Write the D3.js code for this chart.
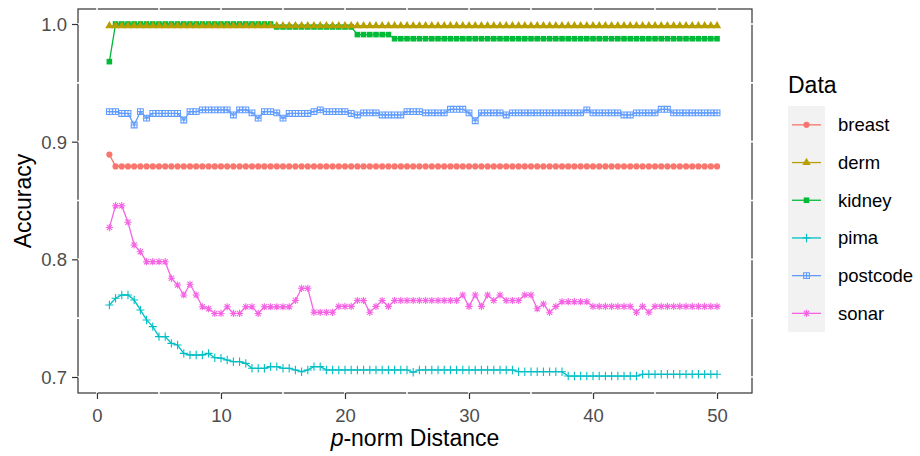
<!DOCTYPE html>
<html>
<head>
<meta charset="utf-8">
<script src="https://cdn.jsdelivr.net/npm/d3@7.9.0/dist/d3.min.js"></script>
<style>
  body { margin: 0; background: #fff; }
  svg text { font-family: "Liberation Sans", Arial, sans-serif; }
</style>
</head>
<body>
<svg id="chart" width="920" height="456"></svg>
<script>
// p values 1, 1.5, ..., 50
const pValues = d3.range(1, 50.01, 0.5);

const seriesNames = ['breast', 'derm', 'kidney', 'pima', 'postcode', 'sonar'];
const seriesColors = ['#F8766D', '#B79F00', '#00BA38', '#00BFC4', '#619CFF', '#F564E3'];

const breast = [
  0.889, 0.879, 0.879, 0.879, 0.879, 0.879, 0.879, 0.879, 0.879, 0.879,
  0.879, 0.879, 0.879, 0.879, 0.879, 0.879, 0.879, 0.879, 0.879, 0.879,
  0.879, 0.879, 0.879, 0.879, 0.879, 0.879, 0.879, 0.879, 0.879, 0.879,
  0.879, 0.879, 0.879, 0.879, 0.879, 0.879, 0.879, 0.879, 0.879, 0.879,
  0.879, 0.879, 0.879, 0.879, 0.879, 0.879, 0.879, 0.879, 0.879, 0.879,
  0.879, 0.879, 0.879, 0.879, 0.879, 0.879, 0.879, 0.879, 0.879, 0.879,
  0.879, 0.879, 0.879, 0.879, 0.879, 0.879, 0.879, 0.879, 0.879, 0.879,
  0.879, 0.879, 0.879, 0.879, 0.879, 0.879, 0.879, 0.879, 0.879, 0.879,
  0.879, 0.879, 0.879, 0.879, 0.879, 0.879, 0.879, 0.879, 0.879, 0.879,
  0.879, 0.879, 0.879, 0.879, 0.879, 0.879, 0.879, 0.879, 0.879
];

const derm = [
  0.9985, 0.9985, 0.9985, 0.9985, 0.9985, 0.9985, 0.9985, 0.9985, 0.9985, 0.9985,
  0.9985, 0.9985, 0.9985, 0.9985, 0.9985, 0.9985, 0.9985, 0.9985, 0.9985, 0.9985,
  0.9985, 0.9985, 0.9985, 0.9985, 0.9985, 0.9985, 0.9985, 0.9985, 0.9985, 0.9985,
  0.9985, 0.9985, 0.9985, 0.9985, 0.9985, 0.9985, 0.9985, 0.9985, 0.9985, 0.9985,
  0.9985, 0.9985, 0.9985, 0.9985, 0.9985, 0.9985, 0.9985, 0.9985, 0.9985, 0.9985,
  0.9985, 0.9985, 0.9985, 0.9985, 0.9985, 0.9985, 0.9985, 0.9985, 0.9985, 0.9985,
  0.9985, 0.9985, 0.9985, 0.9985, 0.9985, 0.9985, 0.9985, 0.9985, 0.9985, 0.9985,
  0.9985, 0.9985, 0.9985, 0.9985, 0.9985, 0.9985, 0.9985, 0.9985, 0.9985, 0.9985,
  0.9985, 0.9985, 0.9985, 0.9985, 0.9985, 0.9985, 0.9985, 0.9985, 0.9985, 0.9985,
  0.9985, 0.9985, 0.9985, 0.9985, 0.9985, 0.9985, 0.9985, 0.9985, 0.9985
];

const kidney = [
  0.968, 1, 1, 1, 1, 1, 1, 1, 1, 1,
  1, 1, 1, 1, 1, 1, 1, 1, 1, 1,
  1, 1, 1, 1, 1, 1, 1, 0.9975, 0.9975, 0.9975,
  0.9975, 0.9975, 0.9975, 0.9975, 0.9975, 0.9975, 0.9975, 0.9975, 0.9975, 0.9975,
  0.991, 0.991, 0.991, 0.991, 0.991, 0.991, 0.9875, 0.9875, 0.9875, 0.9875,
  0.9875, 0.9875, 0.9875, 0.9875, 0.9875, 0.9875, 0.9875, 0.9875, 0.9875, 0.9875,
  0.9875, 0.9875, 0.9875, 0.9875, 0.9875, 0.9875, 0.9875, 0.9875, 0.9875, 0.9875,
  0.9875, 0.9875, 0.9875, 0.9875, 0.9875, 0.9875, 0.9875, 0.9875, 0.9875, 0.9875,
  0.9875, 0.9875, 0.9875, 0.9875, 0.9875, 0.9875, 0.9875, 0.9875, 0.9875, 0.9875,
  0.9875, 0.9875, 0.9875, 0.9875, 0.9875, 0.9875, 0.9875, 0.9875, 0.9875
];

const pima = [
  0.7612, 0.7669, 0.7697, 0.7697, 0.7654, 0.757, 0.7485, 0.7428, 0.7343, 0.7343,
  0.7286, 0.7272, 0.7201, 0.7187, 0.7187, 0.7187, 0.7201, 0.7164, 0.716, 0.7144,
  0.713, 0.713, 0.7116, 0.7074, 0.7074, 0.7074, 0.7088, 0.7088, 0.7074, 0.7074,
  0.706, 0.7045, 0.706, 0.7088, 0.7088, 0.706, 0.706, 0.706, 0.706, 0.706,
  0.706, 0.706, 0.706, 0.706, 0.706, 0.706, 0.706, 0.706, 0.706, 0.704,
  0.706, 0.706, 0.706, 0.706, 0.706, 0.706, 0.706, 0.706, 0.706, 0.706,
  0.706, 0.706, 0.706, 0.706, 0.706, 0.706, 0.7045, 0.7045, 0.7045, 0.7045,
  0.7045, 0.7045, 0.7045, 0.7045, 0.7008, 0.7008, 0.7008, 0.7008, 0.7008, 0.7008,
  0.7008, 0.7008, 0.7008, 0.7008, 0.7008, 0.7008, 0.7023, 0.7023, 0.7023, 0.7023,
  0.7023, 0.7023, 0.7023, 0.7023, 0.7023, 0.7023, 0.7023, 0.7023, 0.7023
];

const postcode = [
  0.9255, 0.9255, 0.924, 0.924, 0.9142, 0.9255, 0.92, 0.924, 0.924, 0.924,
  0.924, 0.924, 0.9184, 0.9255, 0.9255, 0.927, 0.927, 0.927, 0.927, 0.927,
  0.9227, 0.927, 0.927, 0.9245, 0.92, 0.9255, 0.9255, 0.9245, 0.92, 0.924,
  0.924, 0.924, 0.924, 0.9255, 0.927, 0.9255, 0.9255, 0.9255, 0.9255, 0.924,
  0.9227, 0.9245, 0.9245, 0.9245, 0.9227, 0.9227, 0.9227, 0.9227, 0.9255, 0.9255,
  0.9255, 0.9245, 0.9245, 0.9245, 0.9245, 0.9275, 0.9275, 0.9275, 0.9245, 0.9178,
  0.9245, 0.9245, 0.9245, 0.9245, 0.9227, 0.9245, 0.9245, 0.9245, 0.9245, 0.9245,
  0.9245, 0.9245, 0.9245, 0.9245, 0.9245, 0.9245, 0.9245, 0.927, 0.9245, 0.9245,
  0.9245, 0.9245, 0.9245, 0.9227, 0.9227, 0.9245, 0.9245, 0.9245, 0.9245, 0.9275,
  0.9275, 0.9245, 0.9245, 0.9245, 0.9245, 0.9245, 0.9245, 0.9245, 0.9245
];

const sonar = [
  0.827, 0.8456, 0.8456, 0.8315, 0.8122, 0.8065, 0.798, 0.798, 0.798, 0.798,
  0.7839, 0.7782, 0.7697, 0.7788, 0.7697, 0.7597, 0.758, 0.754, 0.754, 0.7597,
  0.754, 0.754, 0.7597, 0.7597, 0.754, 0.7597, 0.7597, 0.7597, 0.7597, 0.7597,
  0.765, 0.7754, 0.7754, 0.755, 0.755, 0.755, 0.755, 0.76, 0.76, 0.76,
  0.765, 0.765, 0.755, 0.76, 0.765, 0.76, 0.765, 0.765, 0.765, 0.765,
  0.765, 0.765, 0.765, 0.765, 0.765, 0.765, 0.765, 0.7697, 0.76, 0.7697,
  0.76, 0.7697, 0.765, 0.7697, 0.765, 0.765, 0.765, 0.7697, 0.7697, 0.758,
  0.762, 0.755, 0.76, 0.764, 0.764, 0.764, 0.764, 0.764, 0.76, 0.76,
  0.76, 0.76, 0.76, 0.76, 0.76, 0.755, 0.76, 0.755, 0.76, 0.76,
  0.76, 0.76, 0.76, 0.76, 0.76, 0.76, 0.76, 0.76, 0.76
];

const xTicks = [0, 10, 20, 30, 40, 50];
const yTicks = [0.7, 0.8, 0.9, 1.0];

const seriesValues = [breast, derm, kidney, pima, postcode, sonar];
const series = seriesNames.map((name, i) => ({
  name,
  color: seriesColors[i],
  points: pValues.map((p, j) => ({ p, v: seriesValues[i][j] }))
}));

// panel geometry
const panel = { left: 78, right: 752, top: 9, bottom: 393 };

const x = d3.scaleLinear().domain([-1.53, 52.82]).range([panel.left, panel.right]);
const y = d3.scaleLinear().domain([0.6864, 1.01275]).range([panel.bottom, panel.top]);

const svg = d3.select('#chart');

// point shapes, roughly ggplot shapes 16, 17, 15, 3, 12, 8
function drawShape(g, name, color) {
  if (name === 'breast') {
    g.append('circle').attr('r', 3.1).attr('fill', color);
  } else if (name === 'derm') {
    g.append('path').attr('d', d3.symbol(d3.symbolTriangle, 30)()).attr('fill', color);
  } else if (name === 'kidney') {
    g.append('rect').attr('x', -2.8).attr('y', -2.8).attr('width', 5.6).attr('height', 5.6).attr('fill', color);
  } else if (name === 'pima') {
    g.append('path').attr('d', 'M-4,0H4M0,-4.2V4.2')
      .attr('stroke', color).attr('stroke-width', 1.1).attr('fill', 'none');
  } else if (name === 'postcode') {
    g.append('path').attr('d', 'M-2.9,-2.9H2.9V2.9H-2.9ZM-2.9,0H2.9M0,-2.9V2.9')
      .attr('stroke', color).attr('stroke-width', 1.1).attr('fill', 'none');
  } else if (name === 'sonar') {
    g.append('path').attr('d', 'M-3.6,0H3.6M0,-3.6V3.6M-2.6,-2.6L2.6,2.6M-2.6,2.6L2.6,-2.6')
      .attr('stroke', color).attr('stroke-width', 1.1).attr('fill', 'none');
  }
}

// panel background + border
svg.append('rect')
  .attr('x', panel.left).attr('y', panel.top)
  .attr('width', panel.right - panel.left).attr('height', panel.bottom - panel.top)
  .attr('fill', '#fff').attr('stroke', '#333').attr('stroke-width', 1.2);

// white grid lines (only visible where they cut the border)
const gridX = d3.range(0, 51, 5);
const gridY = d3.range(0.7, 1.001, 0.05);
svg.append('g').selectAll('line').data(gridX).join('line')
  .attr('x1', d => x(d)).attr('x2', d => x(d))
  .attr('y1', panel.top - 1.5).attr('y2', panel.bottom + 1.5)
  .attr('stroke', '#fff').attr('stroke-width', 1.6);
svg.append('g').selectAll('line').data(gridY).join('line')
  .attr('y1', d => y(d)).attr('y2', d => y(d))
  .attr('x1', panel.left - 1.5).attr('x2', panel.right + 1.5)
  .attr('stroke', '#fff').attr('stroke-width', 1.6);

// axes
const xAxis = d3.axisBottom(x).tickValues(xTicks).tickSize(6).tickPadding(5).tickFormat(d3.format('d'));
const yAxis = d3.axisLeft(y).tickValues(yTicks).tickSize(6).tickPadding(5).tickFormat(d3.format('.1f'));

const gx = svg.append('g').attr('transform', `translate(0,${panel.bottom})`).call(xAxis);
const gy = svg.append('g').attr('transform', `translate(${panel.left},0)`).call(yAxis);
[gx, gy].forEach(g => {
  g.select('.domain').remove();
  g.selectAll('.tick line').attr('stroke', '#333').attr('stroke-width', 1.2);
  g.selectAll('.tick text').attr('fill', '#4D4D4D').style('font-size', '18.5px');
});
gx.selectAll('.tick text').attr('dy', '0.95em');
gy.selectAll('.tick text').attr('dy', '0.35em');

// lines first, then points
const line = d3.line().x(d => x(d.p)).y(d => y(d.v));
svg.append('g').selectAll('path').data(series).join('path')
  .attr('d', d => line(d.points))
  .attr('fill', 'none')
  .attr('stroke', d => d.color)
  .attr('stroke-width', 1.3);

const drawOrder = ['breast', 'kidney', 'derm', 'pima', 'postcode', 'sonar'];
drawOrder.forEach(name => {
  const s = series.find(d => d.name === name);
  const g = svg.append('g');
  s.points.forEach(pt => {
    const pg = g.append('g').attr('transform', `translate(${x(pt.p)},${y(pt.v)})`);
    drawShape(pg, name, s.color);
  });
});

// axis titles
const xTitle = svg.append('text')
  .attr('x', (panel.left + panel.right) / 2).attr('y', 446)
  .attr('text-anchor', 'middle').style('font-size', '23px').attr('fill', '#000');
xTitle.append('tspan').style('font-style', 'italic').text('p');
xTitle.append('tspan').text('-norm Distance');

svg.append('text')
  .attr('transform', `translate(31,${(panel.top + panel.bottom) / 2}) rotate(-90)`)
  .attr('text-anchor', 'middle').style('font-size', '23px').attr('fill', '#000')
  .text('Accuracy');

// legend
const legend = { x: 788, y: 106, keyW: 37, keyH: 37.7 };
svg.append('text').attr('x', legend.x).attr('y', 93)
  .style('font-size', '23px').attr('fill', '#000').text('Data');
svg.append('rect')
  .attr('x', legend.x).attr('y', legend.y)
  .attr('width', legend.keyW).attr('height', legend.keyH * seriesNames.length)
  .attr('fill', '#F2F2F2');

series.forEach((s, i) => {
  const cy = legend.y + legend.keyH * (i + 0.5);
  svg.append('line')
    .attr('x1', legend.x + 4).attr('x2', legend.x + legend.keyW - 4)
    .attr('y1', cy).attr('y2', cy)
    .attr('stroke', s.color).attr('stroke-width', 1.3);
  const pg = svg.append('g').attr('transform', `translate(${legend.x + legend.keyW / 2},${cy})`);
  drawShape(pg, s.name, s.color);
  svg.append('text')
    .attr('x', 838).attr('y', cy).attr('dy', '0.35em')
    .style('font-size', '18.5px').attr('fill', '#000')
    .text(s.name);
});
</script>
</body>
</html>
